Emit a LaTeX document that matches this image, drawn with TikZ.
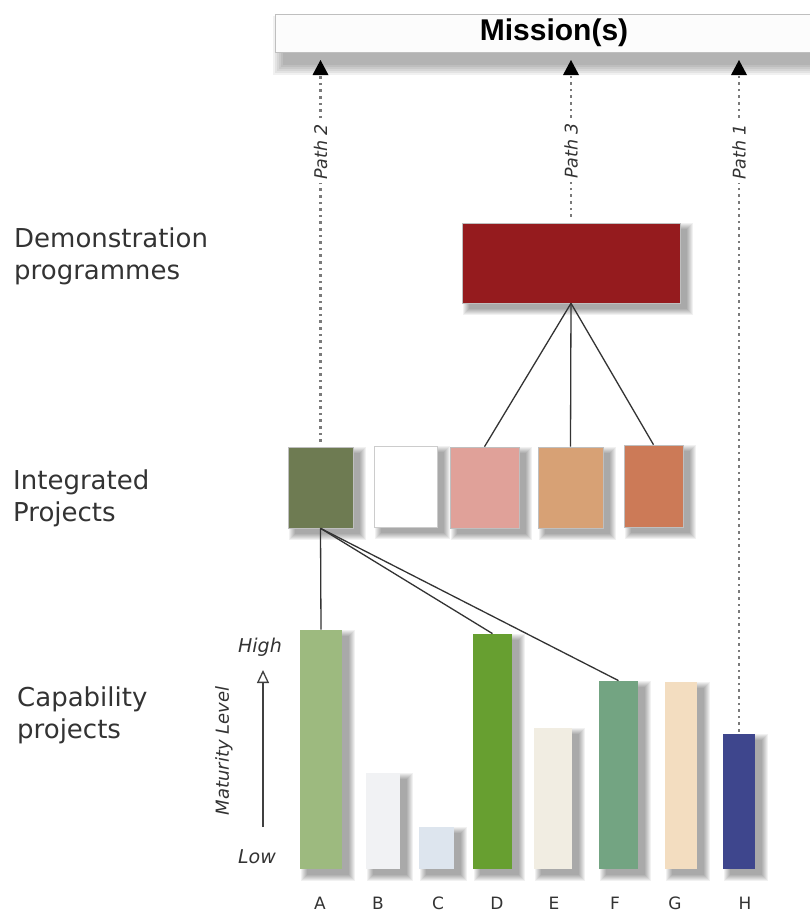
\documentclass[tikz,border=0pt]{standalone}
\usepackage{fontspec}
\setmainfont{DejaVu Sans}
\newfontfamily\missionfont{Liberation Sans}
\usetikzlibrary{arrows.meta}
\pgfdeclarelayer{bottom}
\pgfdeclarelayer{background}
\pgfsetlayers{bottom,background,main}
\definecolor{demored}{HTML}{951B1E}
\definecolor{pAcol}{HTML}{6E7B52}
\definecolor{pCcol}{HTML}{E0A199}
\definecolor{pDcol}{HTML}{D7A175}
\definecolor{pEcol}{HTML}{CC7A57}
\definecolor{bAcol}{HTML}{9DBA7F}
\definecolor{bBcol}{HTML}{F1F2F4}
\definecolor{bCcol}{HTML}{DDE5EE}
\definecolor{bDcol}{HTML}{679F30}
\definecolor{bEcol}{HTML}{F1EDE2}
\definecolor{bFcol}{HTML}{73A482}
\definecolor{bGcol}{HTML}{F3DDC0}
\definecolor{bHcol}{HTML}{3E468D}
\definecolor{txt}{HTML}{333333}
\definecolor{dotgray}{HTML}{7A7A7A}
\tikzset{
  box/.style={rectangle, inner sep=0pt, draw=black!25, line width=0.6pt},
  bar/.style={rectangle, inner sep=0pt, draw=none},
  shadowlayer/.style={fill=black, opacity=0.055, draw=none},
  rowlabel/.style={anchor=base west, align=left, inner sep=0pt, text=txt, font=\fontsize{26}{32}\selectfont},
  pathlabel/.style={rotate=90, fill=white, inner sep=3pt, text=txt, font=\itshape\fontsize{17.5}{20}\selectfont},
  letter/.style={text=txt, inner sep=0pt, font=\fontsize{17}{20}\selectfont},
  pathline/.style={draw=dotgray, line width=2.6pt, dash pattern=on 2.6pt off 4pt, -{Triangle[width=16pt,length=15pt,fill=black,line width=0pt]}},
  link/.style={draw=black!80, line width=1.3pt},
  scalelabel/.style={text=txt, inner sep=0pt, font=\itshape\fontsize{19}{22}\selectfont}
}
\begin{document}
\begin{tikzpicture}[x=1pt,y=-1pt]
\useasboundingbox (0,0) rectangle (810,914);
\begin{pgfonlayer}{bottom}
\fill[white] (0,0) rectangle (810,914);
\end{pgfonlayer}

% Mission box
\node[rectangle, inner sep=0pt, draw=black!25, fill=black!1, line width=0.8pt,
      minimum width=560pt, minimum height=38pt, anchor=north west]
      (mission) at (275,14) {};
\node[font=\missionfont\bfseries\fontsize{30}{34}\selectfont, inner sep=0pt] (missiontxt) at (554,33) {Mission(s)};

% Row labels (base anchor = baseline of last line)
\node[rowlabel] (lbldemo) at (14,279) {Demonstration\\programmes};
\node[rowlabel] (lblint) at (13,521) {Integrated\\Projects};
\node[rowlabel] (lblcap) at (17,738) {Capability\\projects};

% Demonstration programme
\node[box, fill=demored, minimum width=218pt, minimum height=80pt] (demo) at (571,263) {};

% Integrated projects
\node[box, fill=pAcol, minimum width=65pt, minimum height=81pt] (pA) at (320.5,487.5) {};
\node[box, fill=white, draw=black!20, minimum width=63pt, minimum height=81pt] (pB) at (405.5,486.5) {};
\node[box, fill=pCcol, minimum width=69pt, minimum height=81pt] (pC) at (484.5,487.5) {};
\node[box, fill=pDcol, minimum width=65pt, minimum height=81pt] (pD) at (570.5,487.5) {};
\node[box, fill=pEcol, minimum width=59pt, minimum height=82pt] (pE) at (653.5,486) {};

% Capability bars (bottom at 869)
\node[bar, fill=bAcol, minimum width=42pt, minimum height=239pt, anchor=south] (bA) at (321,869) {};
\node[bar, fill=bBcol, minimum width=34pt, minimum height=96pt, anchor=south] (bB) at (383,869) {};
\node[bar, fill=bCcol, minimum width=35pt, minimum height=42pt, anchor=south] (bC) at (436.5,869) {};
\node[bar, fill=bDcol, minimum width=39pt, minimum height=235pt, anchor=south] (bD) at (492.5,869) {};
\node[bar, fill=bEcol, minimum width=38pt, minimum height=141pt, anchor=south] (bE) at (553,869) {};
\node[bar, fill=bFcol, minimum width=39pt, minimum height=188pt, anchor=south] (bF) at (618.5,869) {};
\node[bar, fill=bGcol, minimum width=32pt, minimum height=187pt, anchor=south] (bG) at (681,869) {};
\node[bar, fill=bHcol, minimum width=32pt, minimum height=135pt, anchor=south] (bH) at (739,869) {};

% Soft drop shadows
\begin{pgfonlayer}{background}
\foreach \n in {demo,pA,pB,pC,pD,pE,bA,bB,bC,bD,bE,bF,bG,bH}{
  \foreach \r in {0,1,...,6}{
    \path[shadowlayer] ([shift={({7-\r},{6-\r})}]\n.north west) rectangle ([shift={({7+\r},{6+\r})}]\n.south east);
  }
}
\foreach \r in {0,2,...,10}{
  \path[shadowlayer] ([shift={({8-\r},{12-\r})}]mission.north west) rectangle ([shift={({8+\r},{12+\r})}]mission.south east);
}
\end{pgfonlayer}

% Bar letters
\node[letter] (lA) at (320,903) {A};
\node[letter] (lB) at (378,903) {B};
\node[letter] (lC) at (438,903) {C};
\node[letter] (lD) at (497,903) {D};
\node[letter] (lE) at (554,903) {E};
\node[letter] (lF) at (615,903) {F};
\node[letter] (lG) at (675,903) {G};
\node[letter] (lH) at (745,903) {H};

% Connectors
\draw[link] (demo.south) -- (pC.north);
\draw[link] (demo.south) -- (pD.north);
\draw[link] (demo.south) -- (pE.north);
\draw[link] (pA.south) -- (bA.north);
\draw[link] (pA.south) -- (bD.north);
\draw[link] (pA.south) -- (bF.north);

% Paths to mission
\coordinate (t2) at (320.5,60);
\coordinate (t3) at (571,60);
\coordinate (t1) at (739,60);
\draw[pathline, shorten <=5pt] (pA.north) -- (t2);
\draw[pathline, shorten <=6pt] (demo.north) -- (t3);
\draw[pathline, shorten <=2pt] (bH.north) -- (t1);
\node[pathlabel] (path2) at (320.5,152) {Path 2};
\node[pathlabel] (path3) at (571,151) {Path 3};
\node[pathlabel] (path1) at (739,152) {Path 1};

% Maturity scale
\coordinate (mlow) at (263,827);
\coordinate (mhigh) at (263,670);
\draw[draw=black!75, line width=1.3pt, -{Triangle[open, width=12pt, length=13pt, fill=white]}] (mlow) -- (mhigh);
\node[scalelabel] (high) at (260,647) {High};
\node[scalelabel] (low) at (257,857) {Low};
\node[rotate=90, text=txt, inner sep=0pt, font=\itshape\fontsize{18}{20}\selectfont] (mlevel) at (224,751) {Maturity Level};
\end{tikzpicture}
\end{document}
